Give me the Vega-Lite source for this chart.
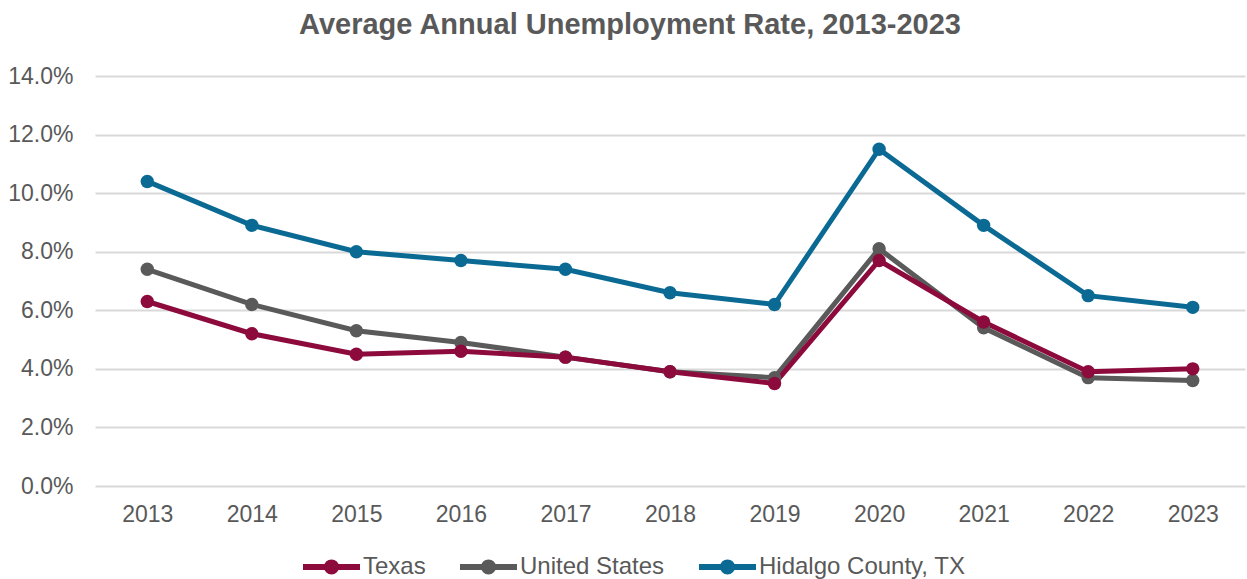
{
  "$schema": "https://vega.github.io/schema/vega-lite/v6.json",
  "width": 1150,
  "height": 410,
  "autosize": {"type": "none"},
  "padding": {"left": 95, "top": 76, "right": 2, "bottom": 93},
  "background": "white",
  "title": {
    "text": "Average Annual Unemployment Rate, 2013-2023",
    "font": "Liberation Sans",
    "fontSize": 29,
    "fontWeight": "bold",
    "color": "#595959",
    "anchor": "middle",
    "dx": -40,
    "offset": 25
  },
  "data": {
    "values": [
      {"year": "2013", "series": "Hidalgo County, TX", "rate": 0.104},
      {"year": "2014", "series": "Hidalgo County, TX", "rate": 0.089},
      {"year": "2015", "series": "Hidalgo County, TX", "rate": 0.080},
      {"year": "2016", "series": "Hidalgo County, TX", "rate": 0.077},
      {"year": "2017", "series": "Hidalgo County, TX", "rate": 0.074},
      {"year": "2018", "series": "Hidalgo County, TX", "rate": 0.066},
      {"year": "2019", "series": "Hidalgo County, TX", "rate": 0.062},
      {"year": "2020", "series": "Hidalgo County, TX", "rate": 0.115},
      {"year": "2021", "series": "Hidalgo County, TX", "rate": 0.089},
      {"year": "2022", "series": "Hidalgo County, TX", "rate": 0.065},
      {"year": "2023", "series": "Hidalgo County, TX", "rate": 0.061},
      {"year": "2013", "series": "United States", "rate": 0.074},
      {"year": "2014", "series": "United States", "rate": 0.062},
      {"year": "2015", "series": "United States", "rate": 0.053},
      {"year": "2016", "series": "United States", "rate": 0.049},
      {"year": "2017", "series": "United States", "rate": 0.044},
      {"year": "2018", "series": "United States", "rate": 0.039},
      {"year": "2019", "series": "United States", "rate": 0.037},
      {"year": "2020", "series": "United States", "rate": 0.081},
      {"year": "2021", "series": "United States", "rate": 0.054},
      {"year": "2022", "series": "United States", "rate": 0.037},
      {"year": "2023", "series": "United States", "rate": 0.036},
      {"year": "2013", "series": "Texas", "rate": 0.063},
      {"year": "2014", "series": "Texas", "rate": 0.052},
      {"year": "2015", "series": "Texas", "rate": 0.045},
      {"year": "2016", "series": "Texas", "rate": 0.046},
      {"year": "2017", "series": "Texas", "rate": 0.044},
      {"year": "2018", "series": "Texas", "rate": 0.039},
      {"year": "2019", "series": "Texas", "rate": 0.035},
      {"year": "2020", "series": "Texas", "rate": 0.077},
      {"year": "2021", "series": "Texas", "rate": 0.056},
      {"year": "2022", "series": "Texas", "rate": 0.039},
      {"year": "2023", "series": "Texas", "rate": 0.040}
    ]
  },
  "mark": {
    "type": "line",
    "strokeWidth": 5,
    "point": {"filled": true, "size": 180, "opacity": 1}
  },
  "encoding": {
    "x": {
      "field": "year",
      "type": "ordinal",
      "title": null,
      "scale": {"paddingOuter": 0.5},
      "axis": {
        "labelAngle": 0,
        "labelFont": "Liberation Sans",
        "labelFontSize": 23,
        "labelColor": "#595959",
        "labelPadding": 17,
        "ticks": false,
        "domain": false,
        "grid": false
      }
    },
    "y": {
      "field": "rate",
      "type": "quantitative",
      "title": null,
      "scale": {"domain": [0, 0.14], "nice": false},
      "axis": {
        "values": [0, 0.02, 0.04, 0.06, 0.08, 0.10, 0.12, 0.14],
        "format": ".1%",
        "labelFont": "Liberation Sans",
        "labelFontSize": 23,
        "labelColor": "#595959",
        "labelPadding": 22,
        "ticks": false,
        "domain": false,
        "grid": true,
        "gridColor": "#d9d9d9",
        "gridWidth": 2
      }
    },
    "color": {
      "field": "series",
      "type": "nominal",
      "scale": {
        "domain": ["Texas", "United States", "Hidalgo County, TX"],
        "range": ["#8c0a3c", "#5a5a5a", "#0b6a94"]
      },
      "legend": {
        "title": null,
        "orient": "none",
        "direction": "horizontal",
        "legendX": 205,
        "legendY": 459,
        "labelFont": "Liberation Sans",
        "labelFontSize": 24,
        "labelColor": "#595959",
        "labelLimit": 400,
        "labelOffset": 0,
        "columnPadding": 22,
        "symbolType": "M-1,0H1M-0.16,0A0.16,0.16 0 1,1 0.16,0A0.16,0.16 0 1,1 -0.16,0Z",
        "symbolSize": 3249,
        "symbolStrokeWidth": 6,
        "symbolOpacity": 1,
        "encode": {
          "symbols": {
            "update": {
              "fill": {"scale": "color", "field": "value"},
              "stroke": {"scale": "color", "field": "value"},
              "strokeWidth": {"value": 6}
            }
          }
        }
      }
    }
  },
  "config": {"view": {"stroke": null}}
}
